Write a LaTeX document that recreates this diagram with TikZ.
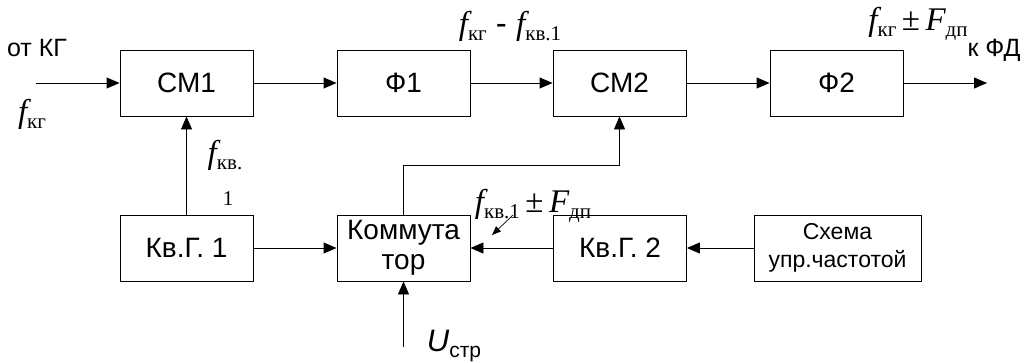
\documentclass[tikz,border=0pt]{standalone}
\usepackage{fontspec}
\setmainfont{Liberation Sans}
\newfontfamily\tnr{Liberation Serif}
\usetikzlibrary{arrows.meta,positioning,calc}
\newcommand{\fvar}[1]{{\tnr\itshape #1}}
\newcommand{\lowtxt}[1]{\raisebox{-0.2em}{\fontsize{21}{21}\selectfont #1}}
\tikzset{blok/.style={draw,line width=0.9pt,minimum width=133pt,minimum height=66pt,inner sep=0pt,align=center,font=\fontsize{28}{29}\selectfont},flow/.style={-{Triangle[length=13pt,width=11pt]},line width=0.9pt},lbl/.style={inner sep=0pt,font=\fontsize{33}{34}\selectfont}}
\begin{document}
\begin{tikzpicture}[x=1pt,y=-1pt]
\useasboundingbox (0,0) rectangle (1024,362);
\foreach \n/\xx/\yy/\val in {cm1/186.5/83/СМ1,f1/403.5/83/Ф1,cm2/619.5/83/СМ2,f2/836.5/83/Ф2,kg1/186.5/248/Кв.Г. 1,kg2/620/248/Кв.Г. 2}{\node[blok] (\n) at (\xx,\yy) {\val};}
\node[blok,font=\fontsize{28}{30}\selectfont] (kom) at (403.5,248) {Коммута\\тор};
\node[blok,minimum width=167pt,font=\fontsize{23}{28}\selectfont] (shema) at (837.5,248) {Схема\\упр.частотой};
\coordinate (in) at (36,83);
\coordinate (out) at (987,83);
\coordinate (ustr) at (403.5,347);
\foreach \aa/\bb in {in/cm1,cm1/f1,f1/cm2,cm2/f2}{\draw[flow](\aa.east)--(\bb.west);}
\draw[flow](f2.east)--(out);
\draw[flow](kg1.north)--(cm1.south);
\draw[flow](kg1.east)--(kom.west);
\draw[flow](shema.west)--(kg2.east);
\draw[flow](kg2.west)--(kom.east);
\draw[flow](kom.north)--++(0,-49)-|(cm2.south);
\draw[flow](ustr)--(kom.south);
% labels
\node[lbl,font=\fontsize{25}{26}\selectfont] (otkg) at (37,48) {от КГ};
\node[lbl] (fkg) at (32,114) {\fvar{f}\lowtxt{\tnr кг}};
\node[lbl] (fkv) at (225,155) {\fvar{f}\lowtxt{\tnr кв.}};
\node[lbl,font=\tnr\fontsize{21}{21}\selectfont] (fkvone) at (228,199) {1};
\node[lbl] (fraz) at (510,26) {\fvar{f}\lowtxt{\tnr кг} - \fvar{f}\lowtxt{\tnr кв.1}};
\node[lbl] (fsum) at (918,24) {\fvar{f}\lowtxt{\tnr кг}\,{\tnr±}\,\fvar{F}\lowtxt{\tnr дп}};
\node[lbl,font=\fontsize{25}{26}\selectfont] (kfd) at (994,50) {к ФД};
\node[lbl] (fkvdp) at (533,206) {\fvar{f}\lowtxt{\tnr кв.1}\,{\tnr±}\,\fvar{F}\lowtxt{\tnr дп}};
\node[lbl,font=\fontsize{31}{32}\selectfont] (ulbl) at (454,346) {\textit{U}\lowtxt{стр}};
\coordinate (ptstart) at (513,215);
\coordinate (ptend) at (492,235);
\draw[-{Triangle[length=9pt,width=7pt]},line width=0.7pt](ptstart)--(ptend);
\end{tikzpicture}
\end{document}
